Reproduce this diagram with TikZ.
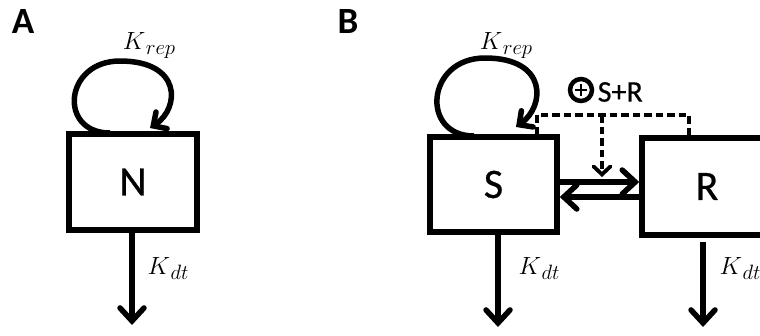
\documentclass[tikz,border=0pt]{standalone}
\usepackage{fontspec}
\setmainfont{Carlito}
\newfontfamily\heavyfont{Carlito}[FakeBold=0.6]
\usetikzlibrary{arrows.meta,calc}
% rate constant: italic K with a large italic subscript
\newcommand{\rateK}[1]{$K$\kern0.5pt\raisebox{-5pt}{\fontsize{20}{22}\selectfont$#1$}}
\begin{document}
\begin{tikzpicture}[x=1pt,y=-1pt,line width=5.5pt,
  box/.style={draw,line width=5.5pt,inner sep=0pt,font=\heavyfont\fontsize{42}{46}\selectfont},
  arr/.style={-{Straight Barb[length=13pt,width=24pt,line cap=round]}},
  looparr/.style={-{Straight Barb[length=10pt,width=20pt,line cap=round]}},
  dasharr/.style={-{Straight Barb[length=8pt,width=17pt,line cap=round]}},
  dash line/.style={line width=3.8pt,dash pattern=on 7.5pt off 4pt},
  rate/.style={font=\fontsize{26}{28}\selectfont,inner sep=0pt},
  panel/.style={font=\fontsize{37}{40}\selectfont\bfseries,inner sep=0pt}]
\useasboundingbox (0,0) rectangle (760,335);
\clip (0,0) rectangle (760,335);

% panel A
\node[panel] (lA) at (23,22) {A};
\node[box,minimum width=128pt,minimum height=96pt] (N) at (133,182) {N};
\coordinate (loopAs) at (110,133);
\coordinate (loopAe) at (150,128);
\draw[looparr] (loopAs) .. controls (58,133) and (64,61) .. (120,61)
  .. controls (182,61) and (180,108) .. (loopAe);
\node[rate] (kA) at (149,46) {\rateK{rep}};
\coordinate (dA) at (132,325);
\draw[arr] (N.south -| dA) -- (dA);
\node[rate] (kdA) at (168,268) {\rateK{dt}};

% panel B
\node[panel] (lB) at (348,22) {B};
\node[box,minimum width=127pt,minimum height=95pt] (S) at (493.5,184.5) {S};
\node[box,minimum width=130pt,minimum height=97pt] (R) at (707,186.5) {R};

% replication loop of S
\coordinate (loopBs) at (474,136);
\coordinate (loopBe) at (516,127);
\draw[looparr] (loopBs) .. controls (420,136) and (426,58) .. (485,58)
  .. controls (548,58) and (545,106) .. (loopBe);
\node[rate] (kB) at (506,46) {\rateK{rep}};

% exchange between S and R
\coordinate (fwd) at (0,182);
\coordinate (bwd) at (0,197);
\draw[arr] (S.east |- fwd) -- (R.west |- fwd);
\draw[arr] (R.west |- bwd) -- (S.east |- bwd);

% dashed modulation by S+R
\coordinate (dl) at (537,115);
\coordinate (dr) at (689,115);
\coordinate (dm) at (602,115);
\coordinate (dtip) at (602,177);
\draw[dash line] (S.north -| dl) -- (dl) -- (dr) -- (R.north -| dr);
\draw[dash line,dasharr] (dm) -- (dtip);
\node[draw,circle,line width=4.5pt,minimum size=22pt,inner sep=0pt] (plus) at (581,90) {};
\draw[line width=2.6pt] ($(plus.center)+(-6,0)$) -- ($(plus.center)+(6,0)$);
\draw[line width=2.6pt] ($(plus.center)+(0,-6)$) -- ($(plus.center)+(0,6)$);
\node[font=\heavyfont\fontsize{30}{32}\selectfont,inner sep=0pt,anchor=west] (sr) at (595,92) {S+R};

% decay of S and R
\coordinate (dS) at (498,327);
\coordinate (dR) at (703,327);
\draw[arr] (S.south -| dS) -- (dS);
\draw[arr] ($(R.south -| dR)+(0,4)$) -- (dR);
\node[rate] (kdS) at (539,268) {\rateK{dt}};
\node[rate] (kdR) at (740,268) {\rateK{dt}};
\end{tikzpicture}
\end{document}
